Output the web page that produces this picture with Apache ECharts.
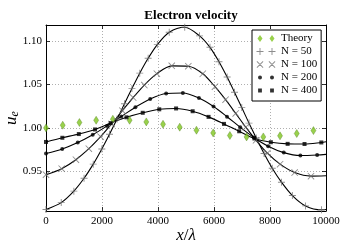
<!DOCTYPE html>
<html><head><meta charset="utf-8">
<script src="https://cdn.jsdelivr.net/npm/echarts@6/dist/echarts.min.js"></script>
<style>html,body{margin:0;padding:0;background:#fff}#c{width:346px;height:251px}</style>
</head><body><div id="c"></div>
<script>
// ---- data ----
const xTicks = [0, 2000, 4000, 6000, 8000, 10000];
const yTicks = [0.95, 1.00, 1.05, 1.10];

const theoryX = [0,597,1194,1791,2388,2985,3582,4179,4776,5373,5970,6567,7164,7761,8358,8955,9552];
const theoryY = [1.0000,1.0031,1.0062,1.0088,1.0100,1.0088,1.0069,1.0042,1.0008,0.9973,0.9942,0.9912,0.9896,0.9896,0.9908,0.9935,0.9969];

const n50X = [0,544,995,1359,1687,1994,2268,2540,2803,3070,3348,3648,3975,4401,4955,5483,5857,6178,6469,6732,6992,7250,7508,7788,8080,8409,8799,9270,9839];
const n50Y = [0.9060,0.9139,0.9271,0.9419,0.9582,0.9757,0.9926,1.0103,1.0278,1.0455,1.0631,1.0802,1.0960,1.1103,1.1160,1.1061,1.0929,1.0763,1.0586,1.0411,1.0234,1.0055,0.9884,0.9704,0.9535,0.9374,0.9220,0.9101,0.9056];
const n50End = [10000, 0.9060];

const n100X = [0,560,1068,1530,1950,2344,2728,3113,3512,3960,4491,5083,5600,6035,6413,6775,7135,7501,7906,8360,8881,9464];
const n100Y = [0.9461,0.9530,0.9633,0.9760,0.9899,1.0046,1.0198,1.0350,1.0494,1.0625,1.0715,1.0711,1.0624,1.0475,1.0325,1.0167,1.0008,0.9857,0.9709,0.9582,0.9485,0.9444];
const n100End = [10000, 0.9448];

const n200X = [0,579,1135,1669,2183,2687,3193,3722,4291,4888,5463,5983,6465,6937,7421,7935,8491,9084,9684];
const n200Y = [0.9704,0.9757,0.9831,0.9921,1.0023,1.0132,1.0239,1.0334,1.0396,1.0402,1.0344,1.0246,1.0129,1.0007,0.9890,0.9789,0.9715,0.9681,0.9687];
const n200End = [10000, 0.9695];

const n400X = [0,584,1172,1751,2308,2874,3455,4045,4646,5238,5806,6357,6899,7444,8030,8630,9233,9833];
const n400Y = [0.9838,0.9886,0.9929,0.9982,1.0055,1.0122,1.0174,1.0214,1.0224,1.0192,1.0127,1.0046,0.9961,0.9878,0.9835,0.9816,0.9814,0.9832];
const n400End = [10000, 0.9840];

const names = ['Theory', 'N = 50', 'N = 100', 'N = 200', 'N = 400'];

// ---- helpers ----
const pairs = (xs, ys) => xs.map((x, i) => [x, ys[i]]);
const SERIF = 'Liberation Serif';

const plusSym = 'path://M-3.5,-0.45L3.5,-0.45L3.5,0.45L-3.5,0.45ZM-0.45,-3.5L0.45,-3.5L0.45,3.5L-0.45,3.5Z';
const crossSym = 'path://M-3.4,-2.8L-2.8,-3.4L3.4,2.8L2.8,3.4ZM2.8,-3.4L3.4,-2.8L-2.8,3.4L-3.4,2.8Z';
const corners = 'M0,0L0.01,0L0,0.01ZM20,8L19.99,8L20,7.99Z';
const legIcons = {
  'Theory': 'path://M4,0.5L6.5,4L4,7.5L1.5,4ZM16,0.5L18.5,4L16,7.5L13.5,4Z' + corners,
  'N = 50': 'path://M0.5,3.55L7.5,3.55L7.5,4.45L0.5,4.45ZM3.55,0.5L4.45,0.5L4.45,7.5L3.55,7.5Z' +
            'M12.5,3.55L19.5,3.55L19.5,4.45L12.5,4.45ZM15.55,0.5L16.45,0.5L16.45,7.5L15.55,7.5Z' + corners,
  'N = 100': 'path://M0.6,1.2L1.2,0.6L7.4,6.8L6.8,7.4ZM6.8,0.6L7.4,1.2L1.2,7.4L0.6,6.8Z' +
             'M12.6,1.2L13.2,0.6L19.4,6.8L18.8,7.4ZM18.8,0.6L19.4,1.2L13.2,7.4L12.6,6.8Z' + corners,
  'N = 200': 'path://M2,4A2,2 0 1,0 6,4A2,2 0 1,0 2,4ZM14,4A2,2 0 1,0 18,4A2,2 0 1,0 14,4Z' + corners,
  'N = 400': 'path://M2.1,2.1L5.9,2.1L5.9,5.9L2.1,5.9ZM14.1,2.1L17.9,2.1L17.9,5.9L14.1,5.9Z' + corners
};

function curve(name, xs, ys, end) {
  return {
    name: name + ' line', type: 'line', data: pairs(xs, ys).concat([end]),
    xAxisIndex: 0, yAxisIndex: 0,
    smooth: 0.3, showSymbol: false, symbol: 'none', silent: true,
    lineStyle: { color: '#000', width: 1.1 }, z: 3
  };
}
function marks(name, xs, ys, symbol, size, style) {
  return {
    name: name, type: 'scatter', data: pairs(xs, ys),
    xAxisIndex: 0, yAxisIndex: 0,
    symbol: symbol, symbolSize: size, itemStyle: style, z: 4, silent: true
  };
}

const gridLine = { show: true, lineStyle: { color: '#9a9a9a', width: 0.8, type: [1, 2] } };
const tickIn = { show: true, inside: true, length: 4, lineStyle: { color: '#000', width: 0.8 } };
const axLine = { show: true, onZero: false, lineStyle: { color: '#000', width: 1 } };
const lblStyle = { fontFamily: SERIF, fontSize: 11, color: '#000' };

const option = {
  animation: false,
  backgroundColor: '#fff',
  title: {
    text: 'Electron velocity', left: 186, top: 4, textAlign: 'center',
    textStyle: { fontFamily: SERIF, fontWeight: 'bold', fontSize: 13, color: '#000' }
  },
  grid: { left: 46, right: 20, top: 25, bottom: 40, containLabel: false, outerBoundsMode: 'none' },
  xAxis: [
    {
      type: 'value', min: 0, max: 10000, interval: 2000, position: 'bottom',
      axisLine: axLine, axisTick: tickIn, splitLine: gridLine,
      axisLabel: Object.assign({ margin: 5, formatter: v => String(v) }, lblStyle),
      name: '{i|x}{n|/}{i|λ}', nameLocation: 'middle', nameGap: 16, nameMoveOverlap: false,
      nameTextStyle: {
        rich: {
          i: { fontFamily: SERIF, fontStyle: 'italic', fontSize: 17, color: '#000' },
          n: { fontFamily: SERIF, fontSize: 17, color: '#000' }
        }
      }
    },
    {
      type: 'value', min: 0, max: 10000, interval: 2000, position: 'top',
      axisLine: axLine, axisTick: tickIn, splitLine: { show: false }, axisLabel: { show: false }
    }
  ],
  yAxis: [
    {
      type: 'value', min: 0.9042, max: 1.1186, position: 'left',
      axisLine: axLine,
      axisTick: Object.assign({ customValues: yTicks }, tickIn),
      splitLine: gridLine,
      axisLabel: Object.assign({ customValues: yTicks, margin: 4, formatter: v => v.toFixed(2) }, lblStyle),
      name: '{u|u}{e|e}', nameLocation: 'middle', nameGap: 25, nameRotate: 90, nameMoveOverlap: false,
      nameTextStyle: {
        rich: {
          u: { fontFamily: SERIF, fontStyle: 'italic', fontSize: 17, color: '#000' },
          e: { fontFamily: SERIF, fontStyle: 'italic', fontSize: 12, color: '#000', padding: [6, 0, 0, 0] }
        }
      }
    },
    {
      type: 'value', min: 0.9042, max: 1.1186, position: 'right',
      axisLine: axLine,
      axisTick: Object.assign({ customValues: yTicks }, tickIn),
      splitLine: { show: false }, axisLabel: { show: false }
    }
  ],
  legend: {
    orient: 'vertical', left: 252, top: 30,
    padding: [3, 4, 5, 4], itemGap: 2, itemWidth: 20, itemHeight: 8,
    symbolKeepAspect: true,
    borderColor: '#000', borderWidth: 1, backgroundColor: '#fff',
    selectedMode: false,
    textStyle: { fontFamily: SERIF, fontSize: 11, color: '#000' },
    data: names.map(n => ({ name: n, icon: legIcons[n], itemStyle: { borderWidth: 0 } }))
  },
  series: [
    curve('N = 50', n50X, n50Y, n50End),
    curve('N = 100', n100X, n100Y, n100End),
    curve('N = 200', n200X, n200Y, n200End),
    curve('N = 400', n400X, n400Y, n400End),
    marks('Theory', theoryX, theoryY, 'diamond', [5, 8], { color: '#80c51f', borderColor: '#3f6e10', borderWidth: 0.4 }),
    marks('N = 50', n50X, n50Y, plusSym, 7, { color: '#707070' }),
    marks('N = 100', n100X, n100Y, crossSym, 7, { color: '#707070' }),
    marks('N = 200', n200X, n200Y, 'circle', 4, { color: '#000' }),
    marks('N = 400', n400X, n400Y, 'rect', 4, { color: '#000' })
  ]
};

const chart = echarts.init(document.getElementById('c'), null, { renderer: 'canvas' });
chart.setOption(option);
</script></body></html>
